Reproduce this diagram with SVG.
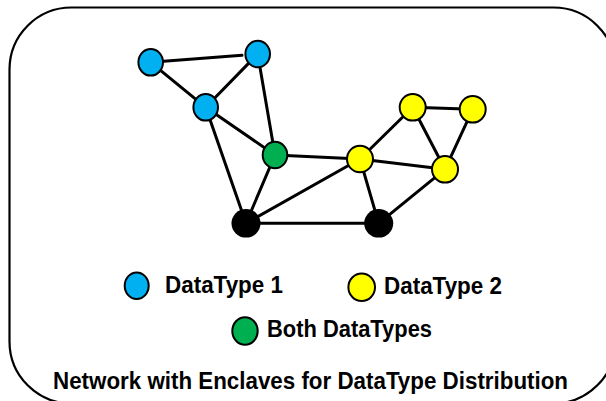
<svg xmlns="http://www.w3.org/2000/svg" width="606" height="401" viewBox="0 0 606 401">
  <style>
    .frame { fill: #ffffff; stroke: #000000; stroke-width: 2.2; }
    .edge { stroke: #000000; stroke-width: 3; stroke-linecap: round; fill: none; }
    .node { stroke: #000000; stroke-width: 2; }
    .t1 { fill: #00B0F0; }
    .t2 { fill: #FFFF00; }
    .both { fill: #00B050; }
    .relay { fill: #000000; }
    .label { font-family: "Liberation Sans", Arial, sans-serif; font-weight: bold; font-size: 23.5px; fill: #000000; }
  </style>

  <!-- outer frame -->
  <rect class="frame" x="9.5" y="7.5" width="606" height="396" rx="62" ry="62"/>

  <!-- connectors -->
  <g id="connectors">
    <line class="edge" x1="150.7" y1="62.3" x2="242" y2="55.3"/>
    <line class="edge" x1="150.7" y1="62.3" x2="205.7" y2="107.3"/>
    <line class="edge" x1="205.7" y1="107.3" x2="257.7" y2="54"/>
    <line class="edge" x1="257.7" y1="54" x2="275" y2="155"/>
    <line class="edge" x1="205.7" y1="107.3" x2="275" y2="155"/>
    <line class="edge" x1="205.7" y1="107.3" x2="246" y2="223.3"/>
    <line class="edge" x1="275" y1="155" x2="246" y2="223.3"/>
    <line class="edge" x1="275" y1="155" x2="360" y2="159"/>
    <line class="edge" x1="360" y1="159" x2="412.7" y2="107.3"/>
    <line class="edge" x1="360" y1="159" x2="445" y2="169.3"/>
    <line class="edge" x1="412.7" y1="107.3" x2="472.7" y2="109.3"/>
    <line class="edge" x1="412.7" y1="107.3" x2="445" y2="169.3"/>
    <line class="edge" x1="472.7" y1="109.3" x2="445" y2="169.3"/>
    <line class="edge" x1="360" y1="159" x2="246" y2="223.3"/>
    <line class="edge" x1="360" y1="159" x2="378.7" y2="223.3"/>
    <line class="edge" x1="246" y1="223.3" x2="378.7" y2="223.3"/>
    <line class="edge" x1="445" y1="169.3" x2="378.7" y2="223.3"/>
  </g>

  <!-- network nodes -->
  <g id="n-blue-a"><ellipse class="node t1" cx="150.7" cy="62.3" rx="12.3" ry="13.3"/></g>
  <g id="n-blue-b"><ellipse class="node t1" cx="257.7" cy="54" rx="12.3" ry="13.3"/></g>
  <g id="n-blue-c"><ellipse class="node t1" cx="205.7" cy="107.3" rx="12.3" ry="13.3"/></g>
  <g id="n-green"><ellipse class="node both" cx="275" cy="155" rx="12.3" ry="13.3"/></g>
  <g id="n-yellow-d"><ellipse class="node t2" cx="360" cy="159" rx="13" ry="13.3"/></g>
  <g id="n-yellow-e"><ellipse class="node t2" cx="412.7" cy="107.3" rx="13" ry="13.3"/></g>
  <g id="n-yellow-f"><ellipse class="node t2" cx="472.7" cy="109.3" rx="13" ry="13.3"/></g>
  <g id="n-yellow-g"><ellipse class="node t2" cx="445" cy="169.3" rx="13" ry="13.3"/></g>
  <g id="n-black-h"><ellipse class="relay" cx="246" cy="223.3" rx="14.5" ry="14.3"/></g>
  <g id="n-black-i"><ellipse class="relay" cx="378.7" cy="223.3" rx="14.5" ry="14.3"/></g>

  <!-- legend -->
  <g id="legend-type1">
    <ellipse class="node t1" cx="136.7" cy="285.7" rx="12" ry="13.3"/>
    <text class="label" x="165" y="292.5" textLength="118" lengthAdjust="spacingAndGlyphs">DataType 1</text>
  </g>
  <g id="legend-type2">
    <ellipse class="node t2" cx="361.7" cy="287.3" rx="13.3" ry="13.8"/>
    <text class="label" x="384" y="293.5" textLength="118" lengthAdjust="spacingAndGlyphs">DataType 2</text>
  </g>
  <g id="legend-both">
    <ellipse class="node both" cx="245" cy="331" rx="12.7" ry="13.8"/>
    <text class="label" x="267" y="337" textLength="165" lengthAdjust="spacingAndGlyphs">Both DataTypes</text>
  </g>

  <!-- caption -->
  <text id="caption" class="label" x="53" y="388.5" textLength="515" lengthAdjust="spacingAndGlyphs">Network with Enclaves for DataType Distribution</text>
</svg>
